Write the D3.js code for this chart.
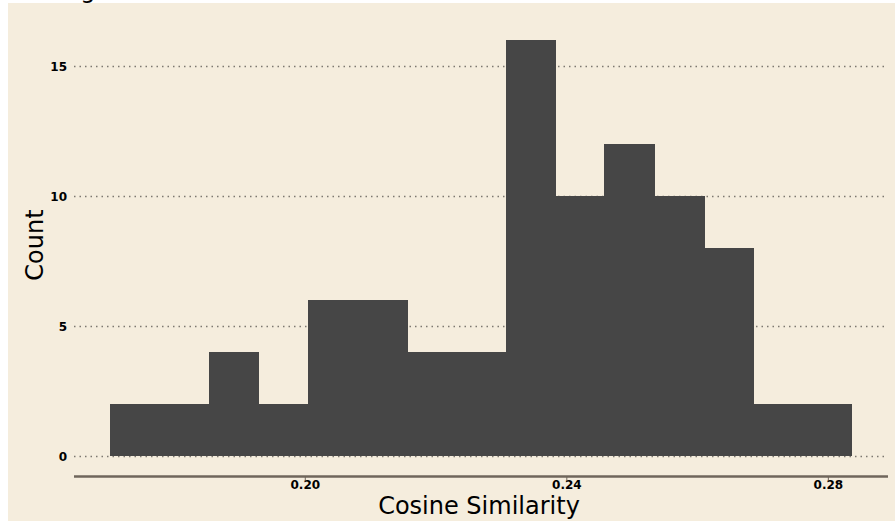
<!DOCTYPE html>
<html>
<head>
<meta charset="utf-8">
<script src="https://cdn.jsdelivr.net/npm/d3@7"></script>
<style>
  body { margin: 0; background: #fff; }
  text { font-family: "DejaVu Sans", sans-serif; }
</style>
</head>
<body>
<script>
var width = 895,
    height = 523;

// histogram bins (cosine similarity) and counts
var binEdges = [0.1702, 0.1778, 0.1853, 0.1929, 0.2005, 0.2080, 0.2156, 0.2231,
                0.2307, 0.2383, 0.2458, 0.2534, 0.2610, 0.2685, 0.2761, 0.2836];
var counts = [2, 2, 4, 2, 6, 6, 4, 4, 16, 10, 12, 10, 8, 2, 2];
var xTicks = [0.20, 0.24, 0.28];
var yTicks = [0, 5, 10, 15];

var bins = counts.map(function(c, i) {
    return {x0: binEdges[i], x1: binEdges[i + 1], count: c};
});

var x = d3.scaleLinear()
    .domain([0.1647, 0.2892])
    .range([74, 888]);

var y = d3.scaleLinear()
    .domain([0, 16])
    .range([456, 40]);

var svg = d3.select("body").append("svg")
    .attr("width", width)
    .attr("height", height);

// beige panel
svg.append("rect")
    .attr("x", 8)
    .attr("y", 3)
    .attr("width", width - 8)
    .attr("height", 518)
    .style("fill", "#f5eddd");

// title, cut off above the panel (only the descender shows)
svg.append("text")
    .attr("x", 19)
    .attr("y", -2)
    .style("font-size", "24px")
    .text("Histogram");

// dotted gridlines
svg.selectAll(".grid")
    .data(yTicks)
    .enter().append("line")
    .attr("class", "grid")
    .attr("x1", x.range()[0])
    .attr("x2", x.range()[1])
    .attr("y1", function(d) { return y(d) + 0.5; })
    .attr("y2", function(d) { return y(d) + 0.5; })
    .style("stroke", "#7d7870")
    .style("stroke-width", 1.5)
    .style("stroke-dasharray", "1.5,4");

// bars
svg.selectAll(".bar")
    .data(bins)
    .enter().append("rect")
    .attr("class", "bar")
    .attr("x", function(d) { return Math.round(x(d.x0)); })
    .attr("width", function(d) { return Math.round(x(d.x1)) - Math.round(x(d.x0)) + 1; })
    .attr("y", function(d) { return Math.round(y(d.count)); })
    .attr("height", function(d) { return Math.round(y(0)) - Math.round(y(d.count)); })
    .attr("shape-rendering", "crispEdges")
    .style("fill", "#464646");

// y tick labels
svg.selectAll(".ylab")
    .data(yTicks)
    .enter().append("text")
    .attr("class", "ylab")
    .attr("x", 67)
    .attr("y", function(d) { return y(d) + 4.5; })
    .attr("text-anchor", "end")
    .style("font-size", "12px")
    .style("font-weight", "bold")
    .text(function(d) { return d; });

// x axis
var xAxis = svg.append("g")
    .attr("transform", "translate(0,476.5)")
    .call(d3.axisBottom(x).tickValues(xTicks).tickFormat(d3.format(".2f")).tickSize(4).tickPadding(0));

xAxis.select(".domain")
    .attr("d", "M" + x.range()[0] + ",0H" + x.range()[1])
    .style("stroke", "#6f665b")
    .style("stroke-width", 2.5);
xAxis.selectAll(".tick line").style("stroke", "#6f665b");
xAxis.selectAll(".tick text")
    .style("font-family", "DejaVu Sans, sans-serif")
    .style("font-size", "12px")
    .style("font-weight", "bold")
    .style("fill", "#000");

// axis titles
svg.append("text")
    .attr("x", 479)
    .attr("y", 514)
    .attr("text-anchor", "middle")
    .style("font-size", "24px")
    .text("Cosine Similarity");

svg.append("text")
    .attr("transform", "translate(43,245) rotate(-90)")
    .attr("text-anchor", "middle")
    .style("font-size", "24px")
    .text("Count");
</script>
</body>
</html>
